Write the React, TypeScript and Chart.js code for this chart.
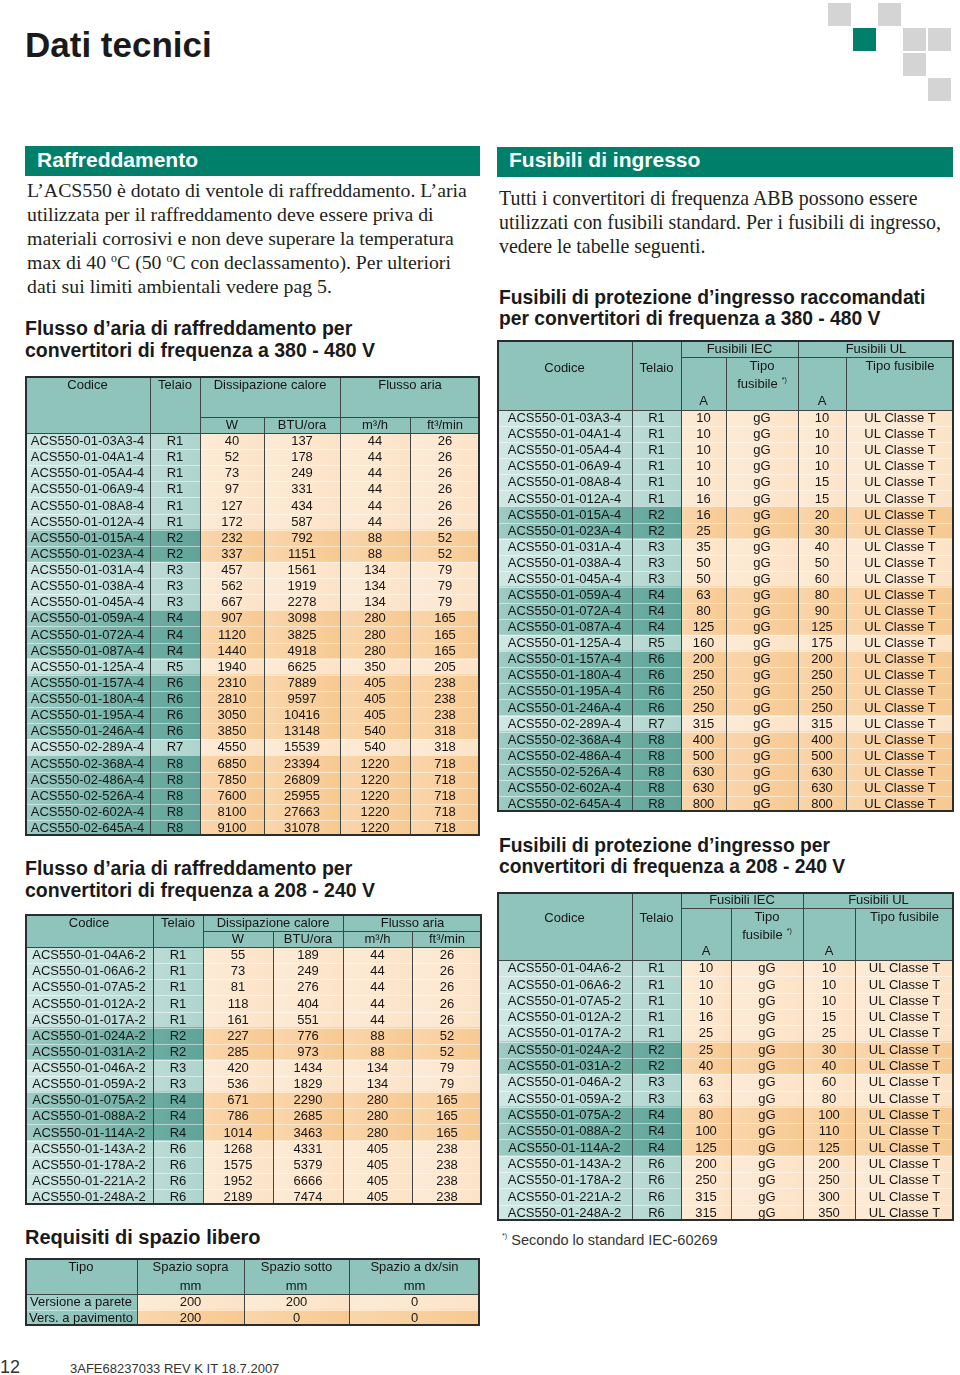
import React, { useEffect, useRef } from "react";
import { Chart, registerables } from "chart.js";

Chart.register(...registerables);

// ---------------- DATA ----------------
const T380_CODES = ["ACS550-01-03A3-4", "ACS550-01-04A1-4", "ACS550-01-05A4-4", "ACS550-01-06A9-4", "ACS550-01-08A8-4", "ACS550-01-012A-4", "ACS550-01-015A-4", "ACS550-01-023A-4", "ACS550-01-031A-4", "ACS550-01-038A-4", "ACS550-01-045A-4", "ACS550-01-059A-4", "ACS550-01-072A-4", "ACS550-01-087A-4", "ACS550-01-125A-4", "ACS550-01-157A-4", "ACS550-01-180A-4", "ACS550-01-195A-4", "ACS550-01-246A-4", "ACS550-02-289A-4", "ACS550-02-368A-4", "ACS550-02-486A-4", "ACS550-02-526A-4", "ACS550-02-602A-4", "ACS550-02-645A-4"];
const T380_FRAMES = ["R1", "R1", "R1", "R1", "R1", "R1", "R2", "R2", "R3", "R3", "R3", "R4", "R4", "R4", "R5", "R6", "R6", "R6", "R6", "R7", "R8", "R8", "R8", "R8", "R8"];
const T380_W = [40, 52, 73, 97, 127, 172, 232, 337, 457, 562, 667, 907, 1120, 1440, 1940, 2310, 2810, 3050, 3850, 4550, 6850, 7850, 7600, 8100, 9100];
const T380_BTU = [137, 178, 249, 331, 434, 587, 792, 1151, 1561, 1919, 2278, 3098, 3825, 4918, 6625, 7889, 9597, 10416, 13148, 15539, 23394, 26809, 25955, 27663, 31078];
const T380_M3H = [44, 44, 44, 44, 44, 44, 88, 88, 134, 134, 134, 280, 280, 280, 350, 405, 405, 405, 540, 540, 1220, 1220, 1220, 1220, 1220];
const T380_FT3 = [26, 26, 26, 26, 26, 26, 52, 52, 79, 79, 79, 165, 165, 165, 205, 238, 238, 238, 318, 318, 718, 718, 718, 718, 718];

const T240_CODES = ["ACS550-01-04A6-2", "ACS550-01-06A6-2", "ACS550-01-07A5-2", "ACS550-01-012A-2", "ACS550-01-017A-2", "ACS550-01-024A-2", "ACS550-01-031A-2", "ACS550-01-046A-2", "ACS550-01-059A-2", "ACS550-01-075A-2", "ACS550-01-088A-2", "ACS550-01-114A-2", "ACS550-01-143A-2", "ACS550-01-178A-2", "ACS550-01-221A-2", "ACS550-01-248A-2"];
const T240_FRAMES = ["R1", "R1", "R1", "R1", "R1", "R2", "R2", "R3", "R3", "R4", "R4", "R4", "R6", "R6", "R6", "R6"];
const T240_W = [55, 73, 81, 118, 161, 227, 285, 420, 536, 671, 786, 1014, 1268, 1575, 1952, 2189];
const T240_BTU = [189, 249, 276, 404, 551, 776, 973, 1434, 1829, 2290, 2685, 3463, 4331, 5379, 6666, 7474];
const T240_M3H = [44, 44, 44, 44, 44, 88, 88, 134, 134, 280, 280, 280, 405, 405, 405, 405];
const T240_FT3 = [26, 26, 26, 26, 26, 52, 52, 79, 79, 165, 165, 165, 238, 238, 238, 238];

const F380_IEC_A = [10, 10, 10, 10, 10, 16, 16, 25, 35, 50, 50, 63, 80, 125, 160, 200, 250, 250, 250, 315, 400, 500, 630, 630, 800];
const F380_IEC_TYPE = ["gG", "gG", "gG", "gG", "gG", "gG", "gG", "gG", "gG", "gG", "gG", "gG", "gG", "gG", "gG", "gG", "gG", "gG", "gG", "gG", "gG", "gG", "gG", "gG", "gG"];
const F380_UL_A = [10, 10, 10, 10, 15, 15, 20, 30, 40, 50, 60, 80, 90, 125, 175, 200, 250, 250, 250, 315, 400, 500, 630, 630, 800];
const F380_UL_TYPE = ["UL Classe T", "UL Classe T", "UL Classe T", "UL Classe T", "UL Classe T", "UL Classe T", "UL Classe T", "UL Classe T", "UL Classe T", "UL Classe T", "UL Classe T", "UL Classe T", "UL Classe T", "UL Classe T", "UL Classe T", "UL Classe T", "UL Classe T", "UL Classe T", "UL Classe T", "UL Classe T", "UL Classe T", "UL Classe T", "UL Classe T", "UL Classe T", "UL Classe T"];

const F240_IEC_A = [10, 10, 10, 16, 25, 25, 40, 63, 63, 80, 100, 125, 200, 250, 315, 315];
const F240_IEC_TYPE = ["gG", "gG", "gG", "gG", "gG", "gG", "gG", "gG", "gG", "gG", "gG", "gG", "gG", "gG", "gG", "gG"];
const F240_UL_A = [10, 10, 10, 15, 25, 30, 40, 60, 80, 100, 110, 125, 200, 250, 300, 350];
const F240_UL_TYPE = ["UL Classe T", "UL Classe T", "UL Classe T", "UL Classe T", "UL Classe T", "UL Classe T", "UL Classe T", "UL Classe T", "UL Classe T", "UL Classe T", "UL Classe T", "UL Classe T", "UL Classe T", "UL Classe T", "UL Classe T", "UL Classe T"];

const SPACE_TYPES = ["Versione a parete", "Vers. a pavimento"];
const SPACE_ABOVE = [200, 200];
const SPACE_BELOW = [200, 0];
const SPACE_SIDE = [0, 0];

// ---------------- STYLE ----------------
const SANS = '"Liberation Sans", Arial, Helvetica, sans-serif';
const SERIF = '"Liberation Serif", "Times New Roman", serif';
const GREEN = "#00806b";
const HEADER_BG = "#8fc4bc";
const LINE = "#3f4444";
const BORDER = "#2a2d2d";
const TEXT = "#161616";

const FILLS: Record<string, [string, string][]> = {
  code: [["#d0e8e4", "#b5d8d2"], ["#9dccc4", "#67a99e"]],
  frame: [["#bcdbd6", "#aed4ce"], ["#6cada2", "#60a399"]],
  data: [["#fdebd6", "#fce3c7"], ["#fad6ac", "#f7c991"]],
  tipo: [["#a9d3cc", "#8fc4bc"], ["#9ccbc4", "#86bdb4"]],
};

type Kind = "code" | "frame" | "data" | "tipo";
type HLine = { t: string; dy: number; sup?: string };
type HCell = { c0: number; c1: number; y0: number; y1: number; lines: HLine[] };
type Spec = {
  left: number;
  top: number;
  width: number;
  headerH: number;
  bodyH: number;
  edges: number[];
  labels: string[];
  colNames: string[];
  columns: (string | number)[][];
  kinds: Kind[];
  shade: number[];
  header: HCell[];
};

function shadeFromFrames(frames: string[]): number[] {
  const out: number[] = [];
  let g = 0;
  frames.forEach((f, i) => {
    if (i > 0 && f !== frames[i - 1]) g = 1 - g;
    out.push(g);
  });
  return out;
}

function makePlugin(spec: Spec) {
  return {
    id: "tableDraw",
    beforeDatasetsDraw(chart: any) {
      const { ctx, chartArea } = chart;
      ctx.save();
      ctx.fillStyle = HEADER_BG;
      ctx.fillRect(chartArea.left, chartArea.top - spec.headerH, chartArea.right - chartArea.left, spec.headerH);
      ctx.restore();
    },
    afterDatasetsDraw(chart: any) {
      const { ctx, chartArea } = chart;
      const xs = chart.scales.x;
      const top = chartArea.top - spec.headerH;
      const px = (i: number) => Math.round(xs.getPixelForValue(spec.edges[i]));
      const seg = (x0: number, y0: number, x1: number, y1: number) => {
        ctx.beginPath();
        ctx.moveTo(x0, y0);
        ctx.lineTo(x1, y1);
        ctx.stroke();
      };
      ctx.save();
      // horizontal row separators in body
      const meta0 = chart.getDatasetMeta(0);
      ctx.lineWidth = 1;
      ctx.strokeStyle = "rgba(255,255,255,0.5)";
      meta0.data.forEach((el: any, j: number) => {
        if (j === 0) return;
        const p = el.getProps(["y", "height"], true);
        const yy = Math.round(p.y - p.height / 2) + 0.5;
        seg(chartArea.left, yy, chartArea.right, yy);
      });
      // vertical column lines in body
      ctx.strokeStyle = LINE;
      for (let i = 1; i < spec.edges.length - 1; i++) {
        const x = px(i) + 0.5;
        seg(x, chartArea.top, x, chartArea.bottom);
      }
      // header cells
      ctx.font = `13px ${SANS}`;
      ctx.textBaseline = "middle";
      spec.header.forEach((c) => {
        const x0 = px(c.c0);
        const x1 = px(c.c1);
        ctx.strokeStyle = LINE;
        ctx.lineWidth = 1;
        ctx.strokeRect(x0 + 0.5, top + c.y0 + 0.5, x1 - x0, c.y1 - c.y0);
        const cx = (x0 + x1) / 2;
        c.lines.forEach((l) => {
          ctx.fillStyle = TEXT;
          ctx.font = `13px ${SANS}`;
          if (l.sup) {
            const w1 = ctx.measureText(l.t).width;
            ctx.font = `7px ${SANS}`;
            const w2 = ctx.measureText(l.sup).width;
            const total = w1 + 4 + w2;
            ctx.textAlign = "left";
            ctx.font = `13px ${SANS}`;
            ctx.fillText(l.t, cx - total / 2, top + l.dy);
            ctx.font = `7px ${SANS}`;
            ctx.fillText(l.sup, cx - total / 2 + w1 + 4, top + l.dy - 4);
          } else {
            ctx.textAlign = "center";
            ctx.fillText(l.t, cx, top + l.dy);
          }
        });
      });
      // header / body separator
      ctx.strokeStyle = LINE;
      ctx.lineWidth = 1;
      seg(chartArea.left, chartArea.top + 0.5, chartArea.right, chartArea.top + 0.5);
      // body texts
      ctx.font = `13px ${SANS}`;
      ctx.fillStyle = TEXT;
      ctx.textAlign = "center";
      ctx.textBaseline = "middle";
      spec.columns.forEach((col, i) => {
        const meta = chart.getDatasetMeta(i);
        meta.data.forEach((el: any, j: number) => {
          const p = el.getProps(["x", "y", "base"], true);
          ctx.fillText(String(col[j]), (p.x + p.base) / 2, p.y + 0.5);
        });
      });
      // outer frame
      ctx.lineWidth = 2;
      ctx.strokeStyle = BORDER;
      ctx.strokeRect(1, 1, chart.width - 2, chart.height - 2);
      ctx.restore();
    },
  };
}

function cellFill(c: any, spec: Spec, i: number) {
  const chart = c.chart;
  const kind = spec.kinds[i];
  const s = spec.shade[c.dataIndex] || 0;
  const pair = FILLS[kind][s];
  const xs = chart.scales && chart.scales.x;
  if (!chart.chartArea || !xs) return pair[0];
  const x0 = xs.getPixelForValue(spec.edges[i]);
  const x1 = xs.getPixelForValue(spec.edges[i + 1]);
  if (!isFinite(x0) || !isFinite(x1)) return pair[0];
  const g = chart.ctx.createLinearGradient(x0, 0, x1, 0);
  g.addColorStop(0, pair[0]);
  g.addColorStop(1, pair[1]);
  return g;
}

function TableChart({ spec }: { spec: Spec }) {
  const ref = useRef<HTMLCanvasElement>(null);
  const H = Math.round(spec.headerH + spec.bodyH);
  useEffect(() => {
    const canvas = ref.current;
    if (!canvas) return;
    const chart = new Chart(canvas, {
      type: "bar",
      data: {
        labels: spec.labels,
        datasets: spec.columns.map((col, i) => ({
          label: spec.colNames[i],
          data: col.map(() => [spec.edges[i], spec.edges[i + 1]]),
          backgroundColor: (c: any) => cellFill(c, spec, i),
          borderWidth: 0,
          barPercentage: 1,
          categoryPercentage: 1,
          grouped: false,
        })),
      } as any,
      options: {
        indexAxis: "y",
        responsive: false,
        maintainAspectRatio: false,
        animation: false,
        devicePixelRatio: 1,
        events: [],
        layout: { padding: { top: spec.headerH, left: 0, right: 0, bottom: 0 } },
        scales: {
          x: { type: "linear", min: 0, max: spec.width, display: false },
          y: { type: "category", display: false, offset: true },
        },
        plugins: { legend: { display: false }, tooltip: { enabled: false } },
      } as any,
      plugins: [makePlugin(spec)],
    });
    return () => chart.destroy();
  }, []);
  return (
    <div style={{ position: "absolute", left: spec.left, top: spec.top, width: spec.width, height: H }}>
      <canvas ref={ref} width={spec.width} height={H} style={{ display: "block", width: spec.width, height: H }} />
    </div>
  );
}

// ---------------- TABLE SPECS ----------------
const airHeader = (h0: number, h: number): HCell[] => [
  { c0: 0, c1: 1, y0: 0, y1: h, lines: [{ t: "Codice", dy: 9 }] },
  { c0: 1, c1: 2, y0: 0, y1: h, lines: [{ t: "Telaio", dy: 9 }] },
  { c0: 2, c1: 4, y0: 0, y1: h0, lines: [{ t: "Dissipazione calore", dy: 9 }] },
  { c0: 4, c1: 6, y0: 0, y1: h0, lines: [{ t: "Flusso aria", dy: 9 }] },
  { c0: 2, c1: 3, y0: h0, y1: h, lines: [{ t: "W", dy: h0 + 8.5 }] },
  { c0: 3, c1: 4, y0: h0, y1: h, lines: [{ t: "BTU/ora", dy: h0 + 8.5 }] },
  { c0: 4, c1: 5, y0: h0, y1: h, lines: [{ t: "m³/h", dy: h0 + 8.5 }] },
  { c0: 5, c1: 6, y0: h0, y1: h, lines: [{ t: "ft³/min", dy: h0 + 8.5 }] },
];

const fuseHeader = (h0: number, h: number, codeDy: number): HCell[] => [
  { c0: 0, c1: 1, y0: 0, y1: h, lines: [{ t: "Codice", dy: codeDy }] },
  { c0: 1, c1: 2, y0: 0, y1: h, lines: [{ t: "Telaio", dy: codeDy }] },
  { c0: 2, c1: 4, y0: 0, y1: h0, lines: [{ t: "Fusibili IEC", dy: h0 / 2 + 0.5 }] },
  { c0: 4, c1: 6, y0: 0, y1: h0, lines: [{ t: "Fusibili UL", dy: h0 / 2 + 0.5 }] },
  { c0: 2, c1: 3, y0: h0, y1: h, lines: [{ t: "A", dy: h - 8.5 }] },
  { c0: 3, c1: 4, y0: h0, y1: h, lines: [{ t: "Tipo", dy: h0 + 9 }, { t: "fusibile", dy: h0 + 27, sup: "*)" }] },
  { c0: 4, c1: 5, y0: h0, y1: h, lines: [{ t: "A", dy: h - 8.5 }] },
  { c0: 5, c1: 6, y0: h0, y1: h, lines: [{ t: "Tipo fusibile", dy: h0 + 9 }] },
];

const AIR_COLS = ["Codice", "Telaio", "W", "BTU/ora", "m3/h", "ft3/min"];
const FUSE_COLS = ["Codice", "Telaio", "IEC A", "IEC Tipo", "UL A", "UL Tipo"];

const SPEC_T380: Spec = {
  left: 25, top: 376, width: 455, headerH: 57, bodyH: 403,
  edges: [0, 125, 175, 239, 315, 385, 455],
  labels: T380_CODES, colNames: AIR_COLS,
  columns: [T380_CODES, T380_FRAMES, T380_W, T380_BTU, T380_M3H, T380_FT3],
  kinds: ["code", "frame", "data", "data", "data", "data"],
  shade: shadeFromFrames(T380_FRAMES),
  header: airHeader(41, 57),
};

const SPEC_T240: Spec = {
  left: 25, top: 914, width: 457, headerH: 33, bodyH: 258,
  edges: [0, 128, 178, 248, 318, 387, 457],
  labels: T240_CODES, colNames: AIR_COLS,
  columns: [T240_CODES, T240_FRAMES, T240_W, T240_BTU, T240_M3H, T240_FT3],
  kinds: ["code", "frame", "data", "data", "data", "data"],
  shade: shadeFromFrames(T240_FRAMES),
  header: airHeader(17, 33),
};

const SPEC_F380: Spec = {
  left: 497, top: 340, width: 457, headerH: 70, bodyH: 402,
  edges: [0, 135, 184, 229, 301, 349, 457],
  labels: T380_CODES, colNames: FUSE_COLS,
  columns: [T380_CODES, T380_FRAMES, F380_IEC_A, F380_IEC_TYPE, F380_UL_A, F380_UL_TYPE],
  kinds: ["code", "frame", "data", "data", "data", "data"],
  shade: shadeFromFrames(T380_FRAMES),
  header: fuseHeader(17, 70, 28),
};

const SPEC_F240: Spec = {
  left: 497, top: 892, width: 457, headerH: 68, bodyH: 261,
  edges: [0, 135, 184, 234, 306, 358, 457],
  labels: T240_CODES, colNames: FUSE_COLS,
  columns: [T240_CODES, T240_FRAMES, F240_IEC_A, F240_IEC_TYPE, F240_UL_A, F240_UL_TYPE],
  kinds: ["code", "frame", "data", "data", "data", "data"],
  shade: shadeFromFrames(T240_FRAMES),
  header: fuseHeader(16, 68, 26),
};

const SPEC_SPACE: Spec = {
  left: 25, top: 1258, width: 455, headerH: 36, bodyH: 32,
  edges: [0, 112, 219, 324, 455],
  labels: SPACE_TYPES, colNames: ["Tipo", "Spazio sopra", "Spazio sotto", "Spazio a dx/sin"],
  columns: [SPACE_TYPES, SPACE_ABOVE, SPACE_BELOW, SPACE_SIDE],
  kinds: ["tipo", "data", "data", "data"],
  shade: [0, 1],
  header: [
    { c0: 0, c1: 1, y0: 0, y1: 36, lines: [{ t: "Tipo", dy: 9 }] },
    { c0: 1, c1: 2, y0: 0, y1: 36, lines: [{ t: "Spazio sopra", dy: 9 }, { t: "mm", dy: 28 }] },
    { c0: 2, c1: 3, y0: 0, y1: 36, lines: [{ t: "Spazio sotto", dy: 9 }, { t: "mm", dy: 28 }] },
    { c0: 3, c1: 4, y0: 0, y1: 36, lines: [{ t: "Spazio a dx/sin", dy: 9 }, { t: "mm", dy: 28 }] },
  ],
};

// ---------------- PAGE ----------------
// top offset so that the text baseline lands on `baseline`
function topFor(baseline: number, size: number, lh: number, serif = false) {
  const asc = serif ? 0.891 : 0.905;
  const desc = serif ? 0.216 : 0.212;
  return baseline - ((lh - (asc + desc) * size) / 2 + asc * size);
}

function Txt(props: { x: number; baseline: number; size: number; lh?: number; bold?: boolean; serif?: boolean; color?: string; children: React.ReactNode }) {
  const lh = props.lh ?? props.size;
  return (
    <div
      style={{
        position: "absolute",
        left: props.x,
        top: topFor(props.baseline, props.size, lh, props.serif),
        fontFamily: props.serif ? SERIF : SANS,
        fontSize: props.size,
        lineHeight: `${lh}px`,
        fontWeight: props.bold ? 700 : 400,
        color: props.color ?? "#1d1d1b",
        whiteSpace: "nowrap",
      }}
    >
      {props.children}
    </div>
  );
}

const LOGO = [
  { c: 0, r: 0, g: false },
  { c: 2, r: 0, g: false },
  { c: 1, r: 1, g: true },
  { c: 3, r: 1, g: false },
  { c: 4, r: 1, g: false },
  { c: 3, r: 2, g: false },
  { c: 4, r: 3, g: false },
];

const Deg = () => <sup style={{ fontSize: "0.6em", verticalAlign: "0.55em", lineHeight: 0 }}>o</sup>;

export default function App() {
  return (
    <div style={{ position: "absolute", left: 0, top: 0, width: 960, height: 1375, background: "#fff", overflow: "hidden" }}>
      <Txt x={25} baseline={57} size={35} bold color="#1a1a1a">Dati tecnici</Txt>
      {LOGO.map((s, i) => (
        <div key={i} style={{ position: "absolute", left: 828 + s.c * 25, top: 3 + s.r * 25, width: 23, height: 23, background: s.g ? GREEN : "#d4d4d4" }} />
      ))}

      {/* Left column */}
      <div style={{ position: "absolute", left: 25, top: 146, width: 455, height: 30, background: GREEN }} />
      <Txt x={37} baseline={167} size={21} bold color="#ffffff">Raffreddamento</Txt>
      <Txt x={27} baseline={197} size={19.8} lh={24} serif color="#231f20">
        L’ACS550 è dotato di ventole di raffreddamento. L’aria<br />
        utilizzata per il raffreddamento deve essere priva di<br />
        materiali corrosivi e non deve superare la temperatura<br />
        max di 40 <Deg />C (50 <Deg />C con declassamento). Per ulteriori<br />
        dati sui limiti ambientali vedere pag 5.
      </Txt>
      <Txt x={25} baseline={336} size={19.5} lh={21.5} bold color="#1a1a1a">
        Flusso d’aria di raffreddamento per<br />
        convertitori di frequenza a 380 - 480 V
      </Txt>
      <TableChart spec={SPEC_T380} />

      <Txt x={25} baseline={876} size={19.5} lh={21.5} bold color="#1a1a1a">
        Flusso d’aria di raffreddamento per<br />
        convertitori di frequenza a 208 - 240 V
      </Txt>
      <TableChart spec={SPEC_T240} />

      <Txt x={25} baseline={1244} size={20} bold color="#1a1a1a">Requisiti di spazio libero</Txt>
      <TableChart spec={SPEC_SPACE} />

      {/* Right column */}
      <div style={{ position: "absolute", left: 497, top: 147, width: 456, height: 30, background: GREEN }} />
      <Txt x={509} baseline={167} size={21} bold color="#ffffff">Fusibili di ingresso</Txt>
      <Txt x={499} baseline={205} size={19.9} lh={24} serif color="#231f20">
        Tutti i convertitori di frequenza ABB possono essere<br />
        utilizzati con fusibili standard. Per i fusibili di ingresso,<br />
        vedere le tabelle seguenti.
      </Txt>
      <Txt x={499} baseline={304} size={19.3} lh={21.5} bold color="#1a1a1a">
        Fusibili di protezione d’ingresso raccomandati<br />
        per convertitori di frequenza a 380 - 480 V
      </Txt>
      <TableChart spec={SPEC_F380} />

      <Txt x={499} baseline={852} size={19.3} lh={21.5} bold color="#1a1a1a">
        Fusibili di protezione d’ingresso per<br />
        convertitori di frequenza a 208 - 240 V
      </Txt>
      <TableChart spec={SPEC_F240} />

      <Txt x={502} baseline={1245} size={14.5} color="#333">
        <sup style={{ fontSize: "0.5em", verticalAlign: "0.9em", lineHeight: 0 }}>*)</sup> Secondo lo standard IEC-60269
      </Txt>

      {/* Footer */}
      <Txt x={0} baseline={1373} size={18} color="#333">12</Txt>
      <Txt x={70} baseline={1373} size={13} color="#333">3AFE68237033 REV K IT 18.7.2007</Txt>
    </div>
  );
}
